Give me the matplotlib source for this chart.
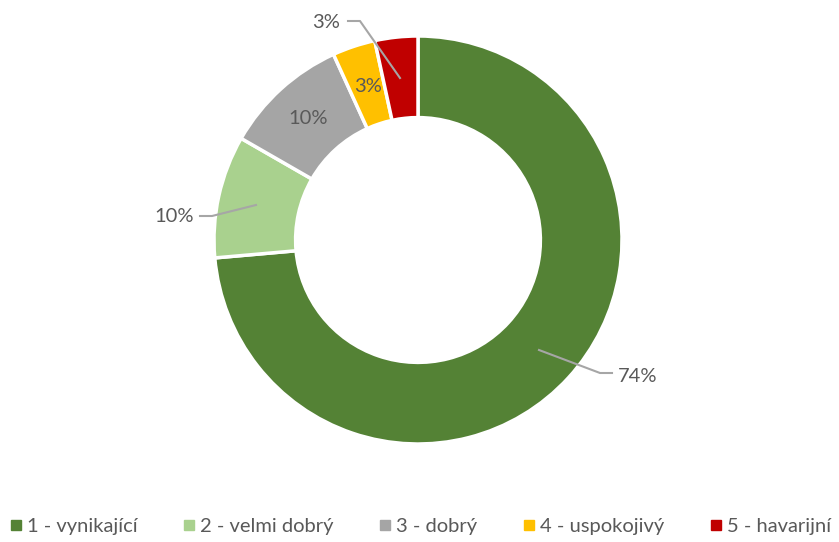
import numpy as np
import matplotlib
matplotlib.use("Agg")
import matplotlib.pyplot as plt
from matplotlib.lines import Line2D

plt.rcParams["font.family"] = ["Lato", "DejaVu Sans"]

categories = ["1 - vynikající", "2 - velmi dobrý", "3 - dobrý", "4 - uspokojivý", "5 - havarijní"]
shares = [73.6, 9.7, 9.9, 3.4, 3.4]
colors = ["#548235", "#A9D18E", "#A5A5A5", "#FFC000", "#C00000"]

W, H = 839, 542
fig = plt.figure(figsize=(W / 100, H / 100), dpi=100)
ax = fig.add_axes([0, 0, 1, 1])

cx, cy, R = 418, H - 240, 204
ax.pie(shares, colors=colors, startangle=90, counterclock=False,
       radius=R, center=(cx, cy), frame=True,
       wedgeprops=dict(width=R * 0.4, edgecolor="white", linewidth=2.5))
ax.set_xlim(0, W)
ax.set_ylim(0, H)
ax.set_aspect("equal")
ax.axis("off")

total = sum(shares)
pct = [f"{round(s / total * 100)}%" for s in shares]
txt = "#595959"
lead = "#A6A6A6"
fs = 14.5


def p(x, y):
    return x, H - y


# 74% outside with leader
ax.plot(*zip(p(539, 350), p(600, 373), p(612, 373)), color=lead, lw=1.5)
ax.text(*p(618, 377), pct[0], ha="left", va="center", fontsize=fs, color=txt)
# 10% light green outside
ax.plot(*zip(p(256, 205), p(212, 216), p(200, 216)), color=lead, lw=1.5)
ax.text(*p(194, 217), pct[1], ha="right", va="center", fontsize=fs, color=txt)
# 10% gray inside
ax.text(*p(308, 119), pct[2], ha="center", va="center", fontsize=fs, color=txt)
# 3% yellow inside
ax.text(*p(368, 86), pct[3], ha="center", va="center", fontsize=fs, color=txt)
# 3% red outside
ax.plot(*zip(p(400, 78), p(360, 21), p(348, 21)), color=lead, lw=1.5)
ax.text(*p(340, 23), pct[4], ha="right", va="center", fontsize=fs, color=txt)

handles = [Line2D([], [], marker="s", linestyle="", markersize=6.5,
                  markerfacecolor=c, markeredgecolor=c) for c in colors]
fig.legend(handles, categories, loc="lower center", bbox_to_anchor=(0.5, -0.02),
           ncol=5, frameon=False, fontsize=fs, labelcolor=txt,
           handletextpad=0.15, columnspacing=2.15, handlelength=0.8)

fig.savefig("out.png", dpi=100, facecolor="white")
